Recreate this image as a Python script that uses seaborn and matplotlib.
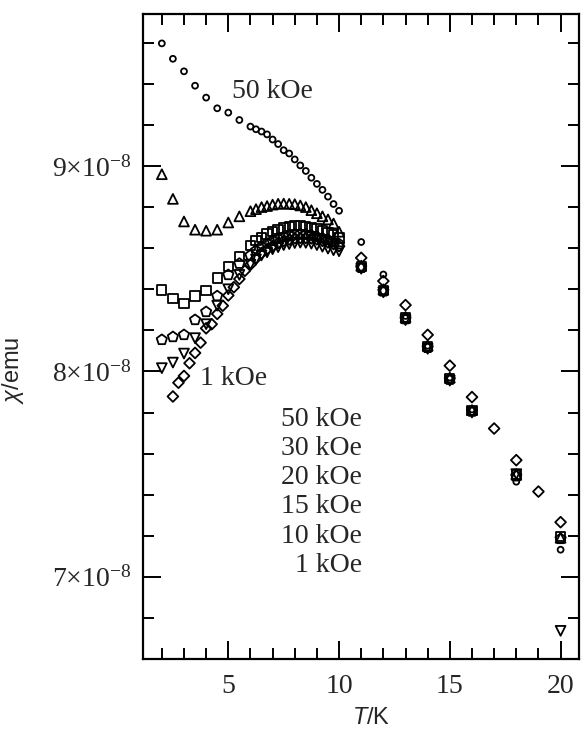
import numpy as np
import pandas as pd
import matplotlib
matplotlib.use("Agg")
import matplotlib.pyplot as plt
import seaborn as sns

sns.set_style("ticks")
plt.rcParams['font.family'] = ['Liberation Serif', 'DejaVu Serif']
plt.rcParams['mathtext.fontset'] = 'custom'
plt.rcParams['mathtext.rm'] = 'Liberation Serif'
plt.rcParams['mathtext.it'] = 'Liberation Sans:italic'

# ---- data (chi in units of 1e-8 emu) ----
T_low = [2, 2.5, 3, 3.5, 4, 4.5, 5, 5.5, 6, 6.25, 6.5, 6.75, 7, 7.25, 7.5,
         7.75, 8, 8.25, 8.5, 8.75, 9, 9.25, 9.5, 9.75, 10]
T_high = [11, 12, 13, 14, 15, 16, 18, 20]

chi_50 = [9.597, 9.522, 9.461, 9.391, 9.333, 9.281, 9.260, 9.224, 9.192, 9.179,
          9.168, 9.154, 9.129, 9.107, 9.077, 9.061, 9.032, 9.003, 8.976, 8.943,
          8.913, 8.884, 8.851, 8.815, 8.782,
          8.63, 8.472, 8.27, 8.125, 7.97, 7.815, 7.463, 7.132]
chi_30 = [8.96, 8.84, 8.73, 8.69, 8.685, 8.69, 8.725, 8.755, 8.78, 8.79,
          8.80, 8.805, 8.812, 8.816, 8.817, 8.816, 8.814, 8.808, 8.80, 8.785,
          8.77, 8.755, 8.74, 8.72, 8.68,
          8.515, 8.40, 8.265, 8.125, 7.97, 7.812, 7.50, 7.19]
chi_20 = [8.396, 8.356, 8.332, 8.367, 8.395, 8.455, 8.51, 8.56, 8.614, 8.637,
          8.653, 8.669, 8.682, 8.69, 8.698, 8.706, 8.709, 8.711, 8.706, 8.701,
          8.693, 8.687, 8.677, 8.666, 8.65,
          8.51, 8.395, 8.26, 8.12, 7.965, 7.81, 7.495, 7.195]
chi_15 = [8.154, 8.168, 8.178, 8.251, 8.29, 8.367, 8.47, 8.525, 8.565, 8.588,
          8.607, 8.623, 8.636, 8.646, 8.655, 8.662, 8.666, 8.668, 8.666, 8.662,
          8.655, 8.648, 8.64, 8.63, 8.62,
          8.505, 8.39, 8.255, 8.115, 7.96, 7.805, 7.49, 7.185]
chi_10 = [8.016, 8.043, 8.087, 8.162, 8.23, 8.32, 8.40, 8.47, 8.52, 8.545,
          8.565, 8.58, 8.595, 8.605, 8.615, 8.62, 8.625, 8.627, 8.626, 8.622,
          8.615, 8.607, 8.598, 8.59, 8.585,
          8.50, 8.385, 8.25, 8.11, 7.955, 7.80, 7.50, 6.737]

T_1 = [2.5, 2.75, 3, 3.25, 3.5, 3.75, 4, 4.25, 4.5, 4.75, 5, 5.25, 5.5, 5.75,
       6, 6.25, 6.5, 6.75, 7, 7.25, 7.5, 7.75, 8, 8.25, 8.5, 8.75, 9, 9.25,
       9.5, 9.75, 10, 11, 12, 13, 14, 15, 16, 17, 18, 19, 20]
chi_1 = [7.878, 7.945, 7.978, 8.04, 8.09, 8.14, 8.21, 8.23, 8.28, 8.32, 8.37,
         8.41, 8.45, 8.49, 8.52, 8.55, 8.575, 8.595, 8.61, 8.625, 8.635, 8.642,
         8.648, 8.65, 8.65, 8.648, 8.643, 8.636, 8.628, 8.62, 8.61,
         8.553, 8.44, 8.323, 8.178, 8.028, 7.875, 7.722, 7.568, 7.415, 7.266]

fields = ["50 kOe", "30 kOe", "20 kOe", "15 kOe", "10 kOe", "1 kOe"]
markers = ["o", "^", "s", "p", "v", "D"]
sizes = [18, 50, 45, 60, 50, 30]

series = [
    (T_low + T_high, chi_50),
    (T_low + T_high, chi_30),
    (T_low + T_high, chi_20),
    (T_low + T_high, chi_15),
    (T_low + T_high, chi_10),
    (T_1, chi_1),
]

y_major = [7, 8, 9]
y_labels = [r'$\mathrm{7{\times}10^{-8}}$', r'$\mathrm{8{\times}10^{-8}}$',
            r'$\mathrm{9{\times}10^{-8}}$']
x_major = [5, 10, 15, 20]

# ---- figure ----
fig = plt.figure(figsize=(5.82, 7.34), dpi=100)
ax = fig.add_axes([0.2457, 0.1022, 0.7491, 0.8787])

for (T, chi), f, m, s in zip(series, fields, markers, sizes):
    df = pd.DataFrame({"T": T, "chi": np.array(chi) * 1e-8})
    sns.scatterplot(data=df, x="T", y="chi", marker=m, s=s, facecolors="none",
                    edgecolor="black", linewidth=1.3, ax=ax, legend=False, zorder=3)

ax.set_xlim(1.15, 20.83)
ax.set_ylim(6.60e-8, 9.74e-8)

ax.set_xticks(x_major)
ax.set_xticks(np.arange(2, 21, 1), minor=True)
ax.set_yticks([v * 1e-8 for v in y_major])
ax.set_yticklabels(y_labels)
ax.set_yticks([v * 1e-8 for v in np.arange(6.6, 9.75, 0.2)], minor=True)

ax.tick_params(axis='both', which='both', direction='in', top=True, right=True,
               labelsize=20, width=1.4, color='black')
ax.tick_params(axis='both', which='major', length=13)
ax.tick_params(axis='both', which='minor', length=8)
ax.tick_params(axis='x', which='major', pad=11)
ax.tick_params(axis='y', which='major', pad=8)
for sp in ax.spines.values():
    sp.set_linewidth(1.6)
    sp.set_color('black')

ax.set_xlabel(r'$T$/K', fontsize=17, family=['Liberation Sans', 'DejaVu Sans'])
ax.set_ylabel(r'$\chi$/emu', fontsize=17, family=['Liberation Sans', 'DejaVu Sans'])
ax.xaxis.set_label_coords(0.523, -0.074)
ax.yaxis.set_label_coords(-0.268, 0.448)

# curve annotations
ax.text(5.15, 9.33e-8, "50 kOe", fontsize=20, ha='left', va='baseline')
ax.text(3.72, 7.933e-8, "1 kOe", fontsize=20, ha='left', va='baseline')

# field list
list_y = [7.734, 7.593, 7.451, 7.309, 7.166, 7.024]
for f, yv in zip(fields, list_y):
    ax.text(11.03, yv * 1e-8, f, fontsize=20, ha='right', va='baseline')

fig.savefig("out.png", dpi=100)
